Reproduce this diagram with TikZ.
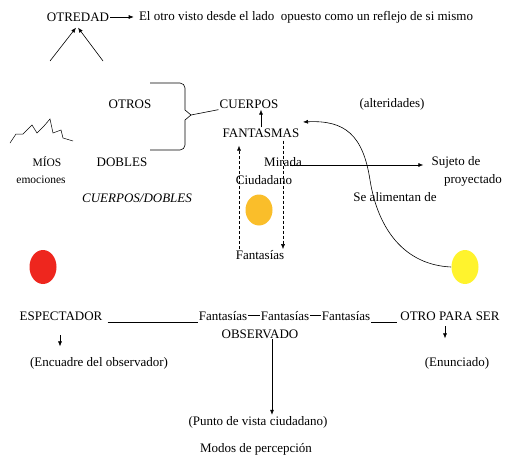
\documentclass[tikz,border=0pt]{standalone}
\usepackage{fontspec}
\setmainfont{Liberation Serif}
\usepackage{xcolor}
\usetikzlibrary{positioning,arrows.meta,shapes.geometric,calc}

\definecolor{blobred}{RGB}{238,38,30}
\definecolor{bloborange}{RGB}{250,190,42}
\definecolor{blobyellow}{RGB}{255,243,45}

\begin{document}
\begin{tikzpicture}[
    x=1pt, y=-1pt,
    >={Latex[length=5pt,width=4pt]},
    line width=0.6pt,
    txt/.style={inner sep=1pt, font=\fontsize{13}{15}\selectfont},
    smalltxt/.style={inner sep=1pt, font=\fontsize{11.5}{13}\selectfont},
    blob/.style={ellipse, minimum width=27pt, minimum height=34pt, inner sep=0pt},
    dashline/.style={densely dashed, line width=0.5pt}
]
\useasboundingbox (0,0) rectangle (506,460);

% Otredad
\node[txt] (otredad) at (78,17) {OTREDAD};
\node[txt] (reflejo) at (306,17) {El otro visto desde el lado\ \ opuesto como un reflejo de si mismo};
\draw[->, shorten >=4pt] (otredad) -- (reflejo);
\coordinate (va) at (50,61);
\coordinate (vb) at (103,61);
\draw[->] (va) -- ([xshift=-2pt,yshift=-5pt]otredad.south);
\draw[->] (vb) -- ([yshift=-5pt]otredad.south);

% Otros / dobles
\node[txt] (otros) at (130,104) {OTROS};
\node[txt] (dobles) at (122,162) {DOBLES};
\node[smalltxt] (mios) at (47,162) {MÍOS};
\node[smalltxt] (emociones) at (41,180) {emociones};
\node[txt, font=\fontsize{13}{15}\selectfont\itshape] (cuerposdobles) at (137,198) {CUERPOS/DOBLES};
\draw[line width=0.5pt] (10,143) -- (16,134) -- (23,134) -- (32,125) -- (37,133)
    -- (44,126) -- (50,119) -- (53,133) -- (61,130) -- (63,138) -- (73,141);

% Brace
\coordinate (tip) at (191,115);
\draw (150,83) -- (180,83) to[out=0,in=90] (185,88) -- (185,110) -- (tip)
    -- (185,120) -- (185,145) to[out=-90,in=0] (180,150) -- (150,150);

% Cuerpos / fantasmas
\node[txt] (cuerpos) at (249,104) {CUERPOS};
\node[txt] (alteridades) at (392,104) {(alteridades)};
\node[txt] (fantasmas) at (261,133) {FANTASMAS};
\draw (tip) -- (cuerpos.south west);
\draw[->] (fantasmas.north) -- (fantasmas.north |- cuerpos.south);

% Mirada
\node[txt] (mirada) at (283,162) {Mirada};
\node[txt] (ciudadano) at (264,180) {Ciudadano};
\node[txt] (sujeto) at (456,162) {Sujeto de};
\node[txt] (proyectado) at (473,180) {proyectado};
\draw[->, shorten >=7pt] ([xshift=-13pt,yshift=-3pt]mirada.east) -- ([yshift=-3pt]sujeto.west);

\node[blob, fill=bloborange, minimum height=31pt] (naranja) at (259,210) {};
\node[txt] (fantasias) at (260,255) {Fantasías};
\coordinate (dl) at (239,0);
\coordinate (dr) at (283,0);
\draw[dashline,->, shorten >=7pt] (dl |- fantasias.north) -- (dl |- fantasmas.south);
\draw[dashline,->, shorten <=2pt] (dr |- fantasmas.south) -- (dr |- fantasias.north);

% Se alimentan de
\node[txt] (alimentan) at (395,197) {Se alimentan de};
\node[blob, fill=blobyellow] (amarillo) at (465,267) {};
\node[blob, fill=blobred] (rojo) at (43,267) {};
\coordinate (alt) at (303,122);
\draw[->] (amarillo.west) .. controls (405,265) and (378,230) .. (370,180)
    .. controls (363,135) and (345,120) .. (alt);

% Espectador -- otro
\node[txt, anchor=base] (espectador) at (61,320) {ESPECTADOR};
\node[txt, anchor=base] (fant1) at (223,320) {Fantasías};
\node[txt, anchor=base] (fant2) at (285,320) {Fantasías};
\node[txt, anchor=base] (fant3) at (346,320) {Fantasías};
\node[txt, anchor=base] (otro) at (450,320) {OTRO PARA SER};
\node[txt, anchor=base] (observado) at (260,338) {OBSERVADO};
\draw[shorten <=4pt] ([yshift=-2pt]espectador.base east) -- ([yshift=-2pt]fant1.base west);
\draw (fant1) -- (fant2);
\draw (fant2) -- (fant3);
\draw[shorten >=2pt] ([yshift=-2pt]fant3.base east) -- ([yshift=-2pt]otro.base west);

% Modos de percepcion
\node[txt] (encuadre) at (99,363) {(Encuadre del observador)};
\node[txt] (enunciado) at (457,363) {(Enunciado)};
\node[txt] (punto) at (258,422) {(Punto de vista ciudadano)};
\node[txt] (modos) at (256,449) {Modos de percepción};
\draw[->] ([xshift=-1pt,yshift=-14pt]espectador.south) -- ++(0,11);
\draw[->] ([xshift=-5pt,yshift=-5pt]otro.south) -- ++(0,12);
\draw[->] ([xshift=12pt]observado.south) -- ([xshift=14pt]punto.north);
\end{tikzpicture}
\end{document}
